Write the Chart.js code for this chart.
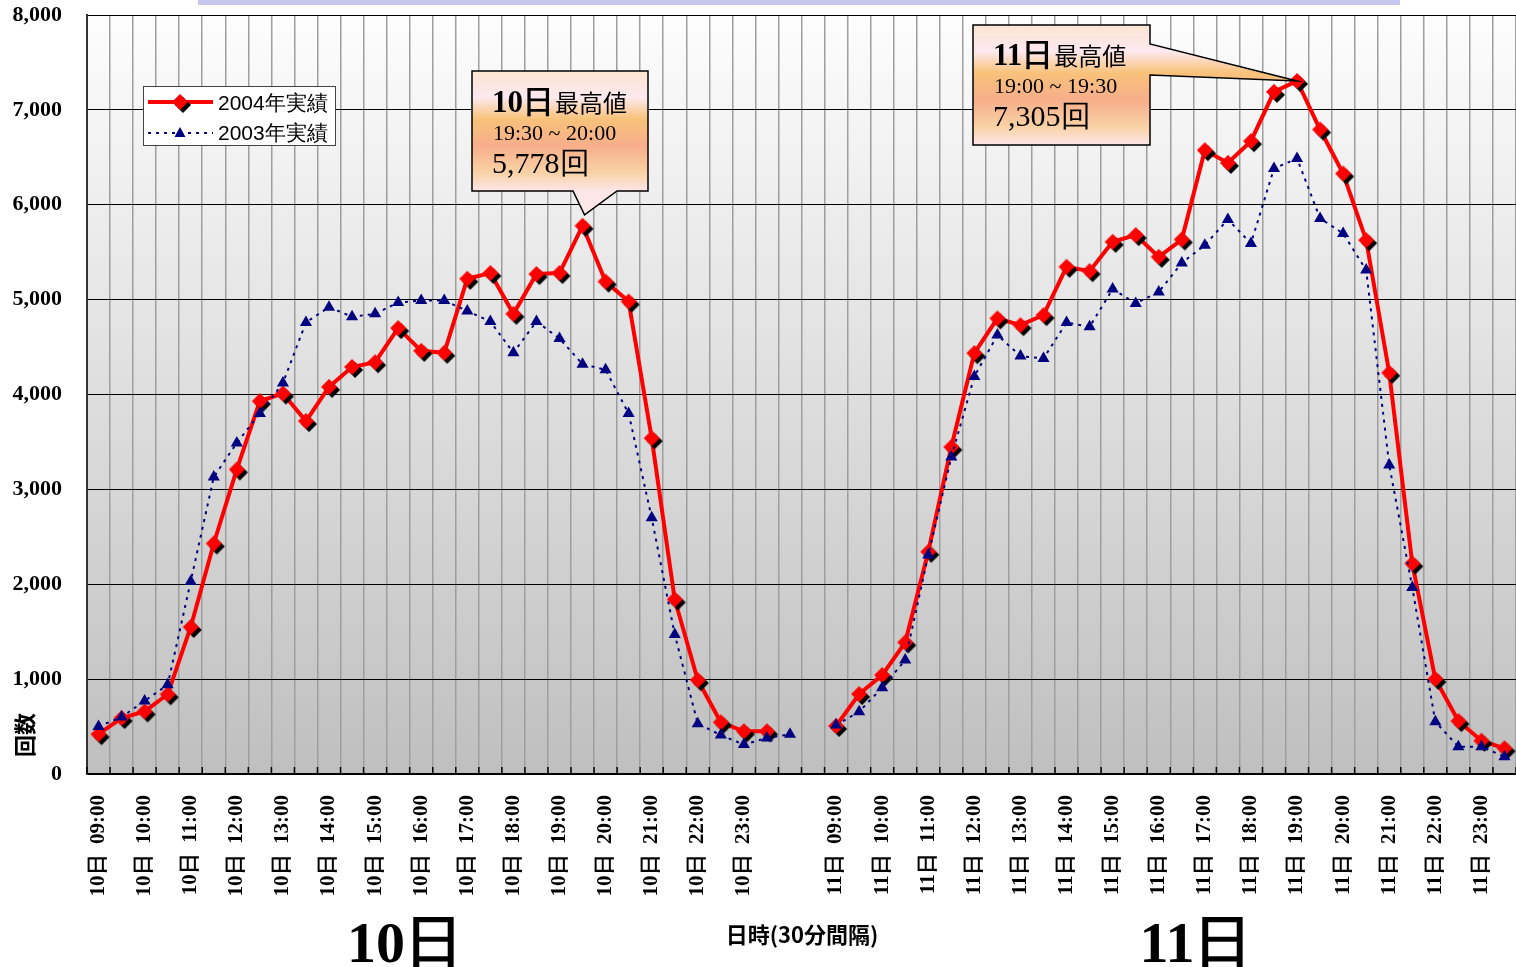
<!DOCTYPE html>
<html>
<head>
<meta charset="utf-8">
<script src="https://cdn.jsdelivr.net/npm/chart.js@4.4.0/dist/chart.umd.min.js"></script>
<style>
    html, body { margin: 0; padding: 0; background: #fff; overflow: hidden; }
    #contenedor { position: relative; width: 1516px; height: 967px; overflow: hidden; }
</style>
</head>
<body>
<!-- el lienzo es 13px más ancho: Chart.js reserva ese hueco a la derecha por el último rótulo girado -->
<div id="contenedor"><canvas id="graficoRecuento" width="1529" height="967"></canvas></div>
<script>
// Horarios (intervalos de 30 minutos)
const horarios10 = [
    '10日 09:00', '10日 09:30', '10日 10:00', '10日 10:30', '10日 11:00', '10日 11:30',
    '10日 12:00', '10日 12:30', '10日 13:00', '10日 13:30', '10日 14:00', '10日 14:30',
    '10日 15:00', '10日 15:30', '10日 16:00', '10日 16:30', '10日 17:00', '10日 17:30',
    '10日 18:00', '10日 18:30', '10日 19:00', '10日 19:30', '10日 20:00', '10日 20:30',
    '10日 21:00', '10日 21:30', '10日 22:00', '10日 22:30', '10日 23:00', '10日 23:30'
];
const horariosHueco = ['', ''];
const horarios11 = [
    '11日 09:00', '11日 09:30', '11日 10:00', '11日 10:30', '11日 11:00', '11日 11:30',
    '11日 12:00', '11日 12:30', '11日 13:00', '11日 13:30', '11日 14:00', '11日 14:30',
    '11日 15:00', '11日 15:30', '11日 16:00', '11日 16:30', '11日 17:00', '11日 17:30',
    '11日 18:00', '11日 18:30', '11日 19:00', '11日 19:30', '11日 20:00', '11日 20:30',
    '11日 21:00', '11日 21:30', '11日 22:00', '11日 22:30', '11日 23:00', '11日 23:30'
];

// 2004年実績
const valores2004Dia10 = [420, 590, 660, 840, 1550, 2430, 3210, 3930, 4010, 3720, 4080, 4290, 4340, 4700, 4460,
    4440, 5220, 5280, 4850, 5270, 5280, 5778, 5190, 4980, 3540, 1840, 990, 545, 450, 450];
const valores2004Dia11 = [506, 843, 1043, 1388, 2342, 3446, 4436, 4802, 4731, 4837, 5346, 5300, 5609, 5680, 5451,
    5634, 6575, 6441, 6670, 7190, 7305, 6793, 6329, 5627, 4229, 2220, 1001, 558, 351, 271];

// 2003年実績 (el día 10 tiene un punto más, 24:00)
const valores2003Dia10 = [500, 600, 770, 940, 2030, 3130, 3490, 3800, 4120, 4760, 4920, 4820, 4850, 4970, 4990,
    4990, 4880, 4770, 4440, 4770, 4590, 4320, 4260, 3800, 2700, 1470, 530, 410, 310, 380, 420];
const valores2003Dia11 = [516, 657, 909, 1201, 2308, 3340, 4190, 4626, 4405, 4380, 4758, 4713, 5111, 4960, 5081,
    5387, 5574, 5845, 5592, 6382, 6488, 5856, 5698, 5311, 3256, 1967, 551, 288, 288, 182];

const ticksY = [0, 1000, 2000, 3000, 4000, 5000, 6000, 7000, 8000];

const categorias = [...horarios10, ...horariosHueco, ...horarios11];
const serie2004 = [...valores2004Dia10, null, null, ...valores2004Dia11];
const serie2003 = [...valores2003Dia10, null, ...valores2003Dia11];

// Marcador rombo rojo con sombra negra
function crearRombo(r, desp) {
    const c = document.createElement('canvas');
    const lado = 2 * (r + desp) + 2;
    c.width = lado;
    c.height = lado;
    const g = c.getContext('2d');
    const m = lado / 2;
    const rombo = (cx, cy, color) => {
        g.beginPath();
        g.moveTo(cx, cy - r);
        g.lineTo(cx + r, cy);
        g.lineTo(cx, cy + r);
        g.lineTo(cx - r, cy);
        g.closePath();
        g.fillStyle = color;
        g.fill();
    };
    rombo(m + desp, m + desp, '#000000');
    rombo(m, m, '#ff0000');
    return c;
}
const rombo = crearRombo(8, 3);

// Fondo degradado del área del gráfico
const fondoPlugin = {
    id: 'fondo',
    beforeDraw(chart) {
        const { ctx, chartArea: a } = chart;
        ctx.save();
        const grad = ctx.createLinearGradient(0, a.top, 0, a.bottom);
        grad.addColorStop(0, '#fdfdfd');
        grad.addColorStop(1, '#bfbfbf');
        ctx.fillStyle = grad;
        ctx.fillRect(a.left, a.top, a.right - a.left, a.bottom - a.top);
        // franja superior
        ctx.fillStyle = '#c6c6ee';
        ctx.fillRect(198, 0, 1202, 5);
        ctx.restore();
    },
    beforeDatasetsDraw(chart) {
        // marcas de división hacia adentro en el eje X
        const { ctx, chartArea: a } = chart;
        const n = categorias.length;
        const paso = (a.right - a.left) / n;
        ctx.save();
        ctx.strokeStyle = '#000';
        ctx.lineWidth = 1.5;
        for (let i = 0; i <= n; i++) {
            const x = a.left + i * paso;
            ctx.beginPath();
            ctx.moveTo(x, a.bottom - 7);
            ctx.lineTo(x, a.bottom);
            ctx.stroke();
        }
        ctx.restore();
    }
};

function degradadoGlobo(ctx, top, bottom) {
    const g = ctx.createLinearGradient(0, top, 0, bottom);
    g.addColorStop(0, '#fbe4d2');
    g.addColorStop(0.22, '#fde9ef');
    g.addColorStop(0.4, '#f8c27a');
    g.addColorStop(0.62, '#f7ae8a');
    g.addColorStop(0.85, '#f9d2a6');
    g.addColorStop(1, '#fde6e8');
    return g;
}

function textoGlobo(ctx, x, y, dia, rango, total) {
    ctx.fillStyle = '#000';
    ctx.textAlign = 'left';
    ctx.textBaseline = 'alphabetic';
    ctx.font = 'bold 31px "Liberation Serif"';
    ctx.fillText(dia, x, y);
    const w = ctx.measureText(dia).width;
    ctx.font = '24px "Noto Sans CJK JP"';
    ctx.fillText('最高値', x + w + 1, y);
    ctx.font = '22px "Liberation Serif"';
    ctx.fillText(rango, x + 1, y + 28);
    ctx.font = '30px "Liberation Serif"';
    ctx.fillText(total, x, y + 61);
}

// Globos, leyenda y títulos
const anotacionesPlugin = {
    id: 'anotaciones',
    afterDraw(chart) {
        const { ctx } = chart;
        const xS = chart.scales.x;
        const yS = chart.scales.y;
        ctx.save();

        // Globo día 10
        const p1x = xS.getPixelForValue(21);
        const p1y = yS.getPixelForValue(valores2004Dia10[21]) - 11;
        ctx.beginPath();
        ctx.moveTo(472, 71);
        ctx.lineTo(648, 71);
        ctx.lineTo(648, 191);
        ctx.lineTo(617, 191);
        ctx.lineTo(p1x + 2, p1y);
        ctx.lineTo(573, 191);
        ctx.lineTo(472, 191);
        ctx.closePath();
        ctx.fillStyle = degradadoGlobo(ctx, 71, 191);
        ctx.fill();
        ctx.lineWidth = 1.5;
        ctx.strokeStyle = '#000';
        ctx.stroke();
        textoGlobo(ctx, 492, 112, '10日', '19:30 ~ 20:00', '5,778回');

        // Globo día 11
        const p2x = xS.getPixelForValue(52);
        const p2y = yS.getPixelForValue(valores2004Dia11[20]);
        ctx.beginPath();
        ctx.moveTo(973, 25);
        ctx.lineTo(1150, 25);
        ctx.lineTo(1150, 44);
        ctx.lineTo(p2x, p2y);
        ctx.lineTo(1150, 75);
        ctx.lineTo(1150, 145);
        ctx.lineTo(973, 145);
        ctx.closePath();
        ctx.fillStyle = degradadoGlobo(ctx, 25, 145);
        ctx.fill();
        ctx.lineWidth = 1.5;
        ctx.strokeStyle = '#000';
        ctx.stroke();
        textoGlobo(ctx, 993, 65, '11日', '19:00 ~ 19:30', '7,305回');

        // Leyenda
        ctx.fillStyle = '#fff';
        ctx.fillRect(143, 86, 192, 59);
        ctx.lineWidth = 1;
        ctx.strokeStyle = '#444';
        ctx.strokeRect(143.5, 86.5, 192, 59);
        ctx.strokeStyle = '#ff0000';
        ctx.lineWidth = 4;
        ctx.beginPath();
        ctx.moveTo(148, 102);
        ctx.lineTo(213, 102);
        ctx.stroke();
        ctx.drawImage(rombo, 180 - rombo.width / 2, 102 - rombo.height / 2);
        ctx.strokeStyle = '#000080';
        ctx.lineWidth = 2;
        ctx.setLineDash([3, 5]);
        ctx.beginPath();
        ctx.moveTo(148, 133);
        ctx.lineTo(213, 133);
        ctx.stroke();
        ctx.setLineDash([]);
        ctx.fillStyle = '#000080';
        ctx.beginPath();
        ctx.moveTo(180, 127);
        ctx.lineTo(185.5, 137);
        ctx.lineTo(174.5, 137);
        ctx.closePath();
        ctx.fill();
        ctx.fillStyle = '#000';
        ctx.font = '21px "Liberation Sans"';
        ctx.textAlign = 'left';
        ctx.fillText('2004年実績', 218, 110);
        ctx.fillText('2003年実績', 218, 140);

        // Títulos de ejes
        ctx.font = 'bold 22px "Noto Sans CJK JP"';
        ctx.textAlign = 'center';
        ctx.textBaseline = 'middle';
        ctx.fillText('日時(30分間隔)', 802, 935);
        ctx.save();
        ctx.translate(25, 735);
        ctx.rotate(-Math.PI / 2);
        ctx.fillText('回数', 0, 0);
        ctx.restore();

        // Rótulos grandes de día
        ctx.font = 'bold 58px "Liberation Serif"';
        ctx.textBaseline = 'alphabetic';
        ctx.fillText('10日', 405, 962);
        ctx.fillText('11日', 1196, 962);

        ctx.restore();
    }
};

const ctx = document.getElementById('graficoRecuento').getContext('2d');
const graficoRecuento = new Chart(ctx, {
    type: 'line',
    data: {
        labels: categorias,
        datasets: [
            {
                label: '2004年実績',
                data: serie2004,
                borderColor: '#ff0000',
                borderWidth: 4,
                pointStyle: rombo,
                pointRadius: 9,
                tension: 0,
                order: 1
            },
            {
                label: '2003年実績',
                data: serie2003,
                borderColor: '#000080',
                borderWidth: 2,
                borderDash: [3, 5],
                pointStyle: 'triangle',
                pointRadius: 7,
                pointBackgroundColor: '#000080',
                pointBorderColor: '#000080',
                pointBorderWidth: 0,
                tension: 0,
                order: 0
            }
        ]
    },
    options: {
        responsive: false,
        animation: false,
        layout: { padding: { top: 15, right: 0, left: 0, bottom: 0 } },
        plugins: {
            legend: { display: false },
            tooltip: { enabled: false }
        },
        scales: {
            x: {
                type: 'category',
                offset: true,
                grid: { offset: true, color: '#9e9e9e', lineWidth: 1.5, drawTicks: false },
                border: { display: true, color: '#000', width: 2 },
                ticks: {
                    autoSkip: false,
                    maxRotation: 90,
                    minRotation: 90,
                    padding: 21,
                    color: '#000',
                    font: { family: '"Liberation Serif"', weight: 'bold', size: 21 },
                    callback: function (value) {
                        const l = this.getLabelForValue(value);
                        return l.endsWith(':00') ? l.replace(' ', '  ') : '';
                    }
                },
                afterFit: (scale) => {
                    scale.height = 193;
                    scale.paddingLeft = 0;
                    scale.paddingRight = 0;
                }
            },
            y: {
                min: 0,
                max: 8000,
                grid: { color: '#000', lineWidth: 1, drawTicks: false },
                border: { display: true, color: '#333', width: 2 },
                afterBuildTicks: (scale) => { scale.ticks = ticksY.map(v => ({ value: v })); },
                ticks: {
                    padding: 25,
                    color: '#000',
                    font: { family: '"Liberation Serif"', weight: 'bold', size: 22 },
                    callback: value => value.toLocaleString('en-US')
                },
                afterFit: (scale) => {
                    scale.width = 87;
                    scale.paddingTop = 0;
                    scale.paddingBottom = 0;
                }
            }
        }
    },
    plugins: [fondoPlugin, anotacionesPlugin]
});
</script>
</body>
</html>
